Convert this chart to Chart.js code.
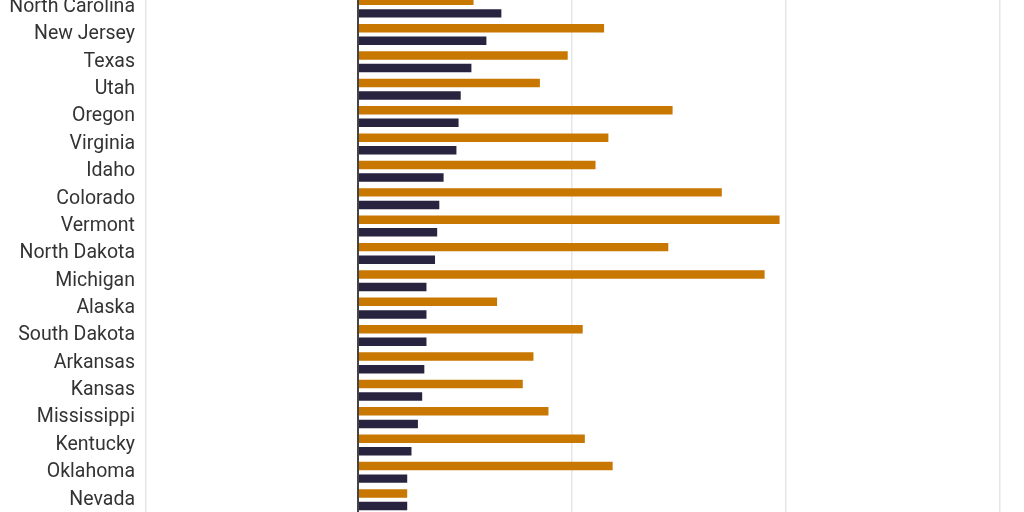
<!DOCTYPE html>
<html>
<head>
<meta charset="utf-8">
<script src="https://cdn.jsdelivr.net/npm/chart.js@4"></script>
<style>
  html, body { margin: 0; padding: 0; background: #fff; overflow: hidden; width: 1024px; height: 512px; }
  /* the reference is a crop of a taller chart, so the canvas runs past the window */
  #wrap { position: absolute; left: 0; top: -29.4px; width: 1214px; height: 564.8px; }
</style>
</head>
<body>
<div id="wrap"><canvas id="chart"></canvas></div>
<script>
var states = ["North Carolina", "New Jersey", "Texas", "Utah", "Oregon", "Virginia", "Idaho",
	"Colorado", "Vermont", "North Dakota", "Michigan", "Alaska", "South Dakota", "Arkansas",
	"Kansas", "Mississippi", "Kentucky", "Oklahoma", "Nevada"];
var orangeValues = [5.4, 11.5, 9.8, 8.5, 14.7, 11.7, 11.1, 17.0, 19.7, 14.5, 19.0, 6.5, 10.5, 8.2, 7.7, 8.9, 10.6, 11.9, 2.3];
var navyValues = [6.7, 6.0, 5.3, 4.8, 4.7, 4.6, 4.0, 3.8, 3.7, 3.6, 3.2, 3.2, 3.2, 3.1, 3.0, 2.8, 2.5, 2.3, 2.3];
var xTicks = [0, 10, 20, 30, 40];
var xMin = -9.92;

function createBarChart(chartId){
	var ctx = document.getElementById(chartId).getContext("2d");
	return new Chart(ctx, {
		type: 'bar',
		data: {
			labels: states,
			datasets: [
				{
					label: 'Series A',
					data: orangeValues,
					backgroundColor: "#c87700",
					categoryPercentage: 0.918,
					barPercentage: 0.675
				},
				{
					label: 'Series B',
					data: navyValues,
					backgroundColor: "#28233f",
					categoryPercentage: 0.918,
					barPercentage: 0.675
				}
			]
		},
		options: {
			indexAxis: 'y',
			responsive: true,
			maintainAspectRatio: false,
			animation: false,
			layout: { padding: 0 },
			plugins: {
				legend: { display: false },
				tooltip: { enabled: false }
			},
			scales: {
				x: {
					min: xMin,
					max: xTicks[xTicks.length - 1],
					afterBuildTicks: function(scale){
						scale.ticks = xTicks.map(function(v){ return { value: v }; });
					},
					ticks: { display: false },
					border: { display: false },
					grid: {
						drawTicks: false,
						color: function(c){ return c.tick && c.tick.value === 0 ? "#444444" : "#e6e6e6"; },
						lineWidth: function(c){ return c.tick && c.tick.value === 0 ? 2 : 1.5; }
					}
				},
				y: {
					afterFit: function(scale){ scale.width = 145.7; },
					border: { display: true, color: "#e6e6e6", width: 1.5 },
					grid: { display: false, drawTicks: false },
					ticks: {
						padding: 10.7,
						color: "#333333",
						font: { family: "Roboto", size: 19.5 }
					}
				}
			}
		}
	});
}

createBarChart("chart");
</script>
</body>
</html>
